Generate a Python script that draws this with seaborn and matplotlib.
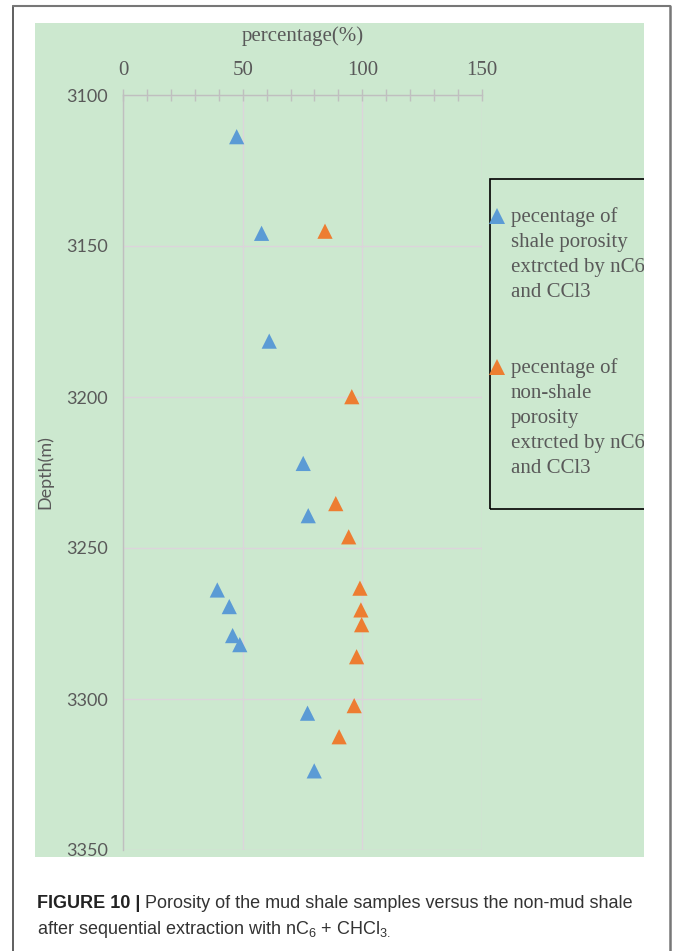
import matplotlib
matplotlib.use("Agg")
import matplotlib.pyplot as plt
from matplotlib.patches import Rectangle
from matplotlib.lines import Line2D
from matplotlib.transforms import Bbox, TransformedBbox
from matplotlib.ticker import MultipleLocator
import numpy as np
import pandas as pd
import seaborn as sns

# ---- data -------------------------------------------------------------
shale_pct = [47.5, 57.9, 61.1, 75.3, 77.4, 39.4, 44.4, 45.8, 48.8, 77.1, 79.9]
shale_depth = [3113.8, 3145.8, 3181.5, 3222.0, 3239.3, 3263.9, 3269.4,
               3279.0, 3282.0, 3304.7, 3323.8]
nonshale_pct = [84.4, 95.6, 88.9, 94.3, 99.0, 99.4, 99.7, 97.6, 96.6, 90.3]
nonshale_depth = [3145.1, 3199.9, 3235.3, 3246.3, 3263.3, 3270.5, 3275.4,
                  3286.0, 3302.2, 3312.5]

series_names = ["shale", "non-shale"]
legend_labels = [
    "pecentage of\nshale porosity\nextrcted by nC6\nand CCl3",
    "pecentage of\nnon-shale\nporosity\nextrcted by nC6\nand CCl3",
]
x_ticks = [0, 50, 100, 150]
y_ticks = [3100, 3150, 3200, 3250, 3300, 3350]
x_label = "percentage(%)"
y_label = "Depth(m)"
caption_bold = "FIGURE 10 |"
caption_rest = " Porosity of the mud shale samples versus the non-mud shale"
caption_line2 = r"after sequential extraction with nC$_\mathregular{6}$ + CHCl$_\mathregular{3.}$"

df = pd.DataFrame({
    "pct": shale_pct + nonshale_pct,
    "depth": shale_depth + nonshale_depth,
    "series": [series_names[0]] * len(shale_pct) + [series_names[1]] * len(nonshale_pct),
})

# ---- style ------------------------------------------------------------
BLUE = "#5B9BD5"
ORANGE = "#ED7D31"
PANEL = "#CCE8CF"
GRID = "#DCD4DB"
AXIS = "#BFBFBF"
TXT = "#595959"

sns.set_style("white")
plt.rcParams["font.family"] = ["Liberation Serif", "DejaVu Serif"]

W, H = 675, 951
fig = plt.figure(figsize=(W / 100, H / 100), dpi=100)


def fx(x):
    return x / W


def fy(y):
    return 1 - y / H


# outer frame of the figure page
fig.add_artist(Line2D([fx(13), fx(13)], [fy(6), fy(951)], color="#444444", lw=1.2,
                      transform=fig.transFigure))
fig.add_artist(Line2D([fx(13), fx(670)], [fy(6), fy(6)], color="#777777", lw=1.5,
                      transform=fig.transFigure))
fig.add_artist(Line2D([fx(670), fx(670)], [fy(6), fy(951)], color="#777777", lw=1.8,
                      transform=fig.transFigure))

# green chart panel
panel = Rectangle((fx(35), fy(857)), fx(644) - fx(35), fy(23) - fy(857),
                  transform=fig.transFigure, facecolor=PANEL, edgecolor="none", zorder=0)
fig.add_artist(panel)

ax = fig.add_axes([fx(123), fy(850), fx(482) - fx(123), fy(95) - fy(850)])
ax.set_facecolor("none")

sns.scatterplot(data=df, x="pct", y="depth", hue="series", palette=[BLUE, ORANGE],
                marker="^", s=120, linewidth=0, legend=False, ax=ax, zorder=3,
                clip_on=False)

ax.set_xlim(0, 150)
ax.set_ylim(3350, 3100)
ax.set_xticks(x_ticks)
ax.set_yticks(y_ticks)
ax.xaxis.set_minor_locator(MultipleLocator(10))
ax.yaxis.set_minor_locator(MultipleLocator(10))
ax.xaxis.tick_top()
ax.xaxis.set_label_position("top")

ax.grid(True, which="major", color=GRID, lw=1.0, zorder=1)
ax.set_axisbelow(True)
for side in ["right", "bottom"]:
    ax.spines[side].set_visible(False)
for side in ["left", "top"]:
    ax.spines[side].set_color(AXIS)
    ax.spines[side].set_linewidth(1.0)

ax.tick_params(axis="both", which="both", direction="inout", length=8, width=1.0,
               color=AXIS, labelcolor=TXT)
ax.tick_params(axis="x", which="major", pad=6.5, labelsize=15)
ax.tick_params(axis="y", which="major", pad=7, labelsize=13)
for lbl in ax.get_yticklabels():
    lbl.set_fontfamily("Lato")

ax.set_xlabel(x_label, fontsize=15, color=TXT, labelpad=15)
ax.set_ylabel(y_label, fontsize=13, color=TXT, labelpad=9, family="Lato")

# legend box, cut off by the panel edge
clip = TransformedBbox(Bbox([[fx(35), fy(857)], [fx(644), fy(23)]]), fig.transFigure)
box = Rectangle((fx(490), fy(509)), fx(720) - fx(490), fy(179) - fy(509),
                transform=fig.transFigure, facecolor="none", edgecolor="black",
                lw=1.2, zorder=4)
box.set_clip_box(clip)
fig.add_artist(box)

for color, label, y0 in zip([BLUE, ORANGE], legend_labels, [216, 367]):
    fig.add_artist(Line2D([fx(497)], [fy(y0)], marker="^", markersize=11,
                          color=color, markeredgewidth=0, linestyle="none",
                          transform=fig.transFigure, zorder=5))
    t = fig.text(fx(511), fy(y0 - 9), label, ha="left", va="top", fontsize=15,
                 color=TXT, linespacing=1.43, zorder=5)
    t.set_clip_box(clip)
    t.set_clip_on(True)

# caption
cap_font = ["Liberation Sans", "DejaVu Sans"]
tb = fig.text(fx(37), fy(908), caption_bold, ha="left", va="baseline", fontsize=13,
              fontweight="bold", family=cap_font, color="#222222")
fig.canvas.draw()
bb = tb.get_window_extent()
fig.text(bb.x1 / W, fy(908), caption_rest, ha="left", va="baseline", fontsize=13,
         family=cap_font, color="#333333")
fig.text(fx(37), fy(934), caption_line2, ha="left", va="baseline", fontsize=13,
         family=cap_font, color="#333333")

fig.savefig("out.png", dpi=100)
